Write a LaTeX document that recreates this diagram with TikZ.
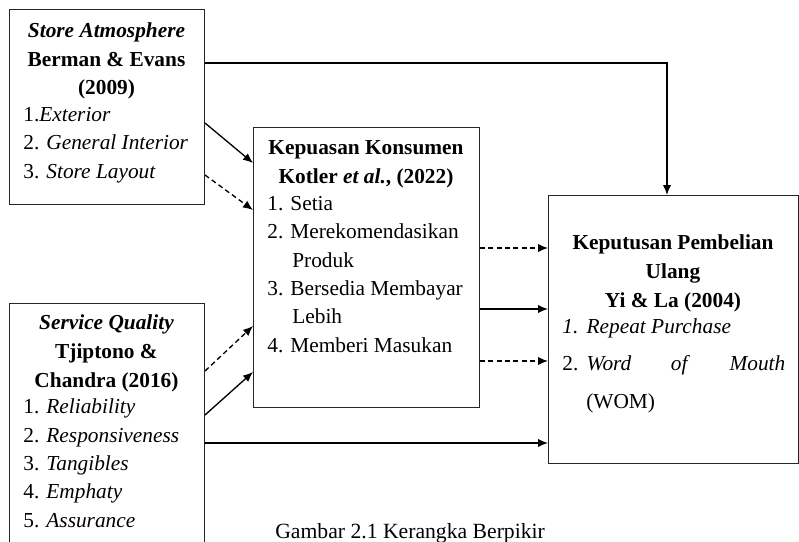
\documentclass[tikz,border=0pt]{standalone}
\usepackage{fontspec}
\setmainfont{Liberation Serif}
\usetikzlibrary{calc,arrows.meta}

\begin{document}
\begin{tikzpicture}[x=0.6pt,y=-0.6pt]
	\tikzstyle{Box} = [rectangle, draw=black!85, line width=0.6pt, inner sep=0pt, anchor=north west]
	\tikzstyle{head} = [anchor=base, align=center, inner sep=0pt, font=\fontsize{12.8}{17.3}\selectfont\bfseries]
	\tikzstyle{list} = [anchor=base west, align=left, inner sep=0pt, font=\fontsize{12.8}{17}\selectfont]
	\tikzstyle{arrow} = [thick,->,>={Latex[length=6pt,width=5pt]}]
	\tikzstyle{dasharrow} = [arrow, dash pattern=on 3pt off 2pt]
	
	\useasboundingbox (0,0) rectangle (799,541);
	\clip (0,0) rectangle (799,541);
	
	% kotak-kotak
	\node (sa) [Box, minimum width=117pt, minimum height=117pt] at (9,9) {};
	\node (sq) [Box, minimum width=117pt, minimum height=150pt] at (9,303) {};
	\node (kk) [Box, minimum width=135.6pt, minimum height=168pt] at (253,127) {};
	\node (kp) [Box, minimum width=150pt, minimum height=160.8pt] at (548,195) {};
	
	% isi kotak (base = baris terakhir)
	\node (sah) [head] at (106.5,95) {\textit{Store Atmosphere}\\Berman \& Evans\\(2009)};
	\node (sal) [list] at (23,178) {1.\textit{Exterior}\\2. \textit{General Interior}\\3. \textit{Store Layout}};
	
	\node (sqh) [head] at (106.5,387) {\textit{Service Quality}\\Tjiptono \&\\Chandra (2016)};
	\node (sql) [list] at (23,527) {1. \textit{Reliability}\\2. \textit{Responsiveness}\\3. \textit{Tangibles}\\4. \textit{Emphaty}\\5. \textit{Assurance}};
	
	\node (kkh) [head] at (366,183) {Kepuasan Konsumen\\Kotler \textit{et al.}, (2022)};
	\node (kkl) [list] at (267,352) {1. Setia\\2. Merekomendasikan\\\hspace*{15pt}Produk\\3. Bersedia Membayar\\\hspace*{15pt}Lebih\\4. Memberi Masukan};
	
	\node (kph) [head] at (673,307) {Keputusan Pembelian\\Ulang\\Yi \& La (2004)};
	\node (kpl) [list, font=\fontsize{12.8}{22.5}\selectfont] at (562,408) {\textit{1.\hspace{5pt}Repeat Purchase}\\\hbox to 133.8pt{2.\hspace{5pt}\textit{Word}\hfill\textit{of}\hfill\textit{Mouth}}\\\hspace*{14.4pt}(WOM)};
	
	\node (cap) [anchor=base west, inner sep=0pt, font=\fontsize{13}{15}\selectfont] at (275,538) {Gambar 2.1 Kerangka Berpikir};
	
	% panah
	\draw [arrow] ($(sa.north east)+(0,54)$) -| ($(kp.north west)+(119,0)$);
	\draw [arrow] ($(sa.north east)+(0,114)$) -- ($(kk.north west)+(0,36)$);
	\draw [dasharrow] ($(sa.north east)+(0,166)$) -- ($(kk.north west)+(0,83)$);
	\draw [dasharrow] ($(sq.north east)+(0,68)$) -- ($(kk.north west)+(0,199)$);
	\draw [arrow] ($(sq.north east)+(0,112)$) -- ($(kk.north west)+(0,245)$);
	\draw [arrow] ($(sq.north east)+(0,140)$) -- ($(kp.north west)+(0,248)$);
	\draw [dasharrow] ($(kk.north east)+(0,121)$) -- ($(kp.north west)+(0,53)$);
	\draw [arrow] ($(kk.north east)+(0,182)$) -- ($(kp.north west)+(0,114)$);
	\draw [dasharrow] ($(kk.north east)+(0,234)$) -- ($(kp.north west)+(0,166)$);
\end{tikzpicture}
\end{document}
